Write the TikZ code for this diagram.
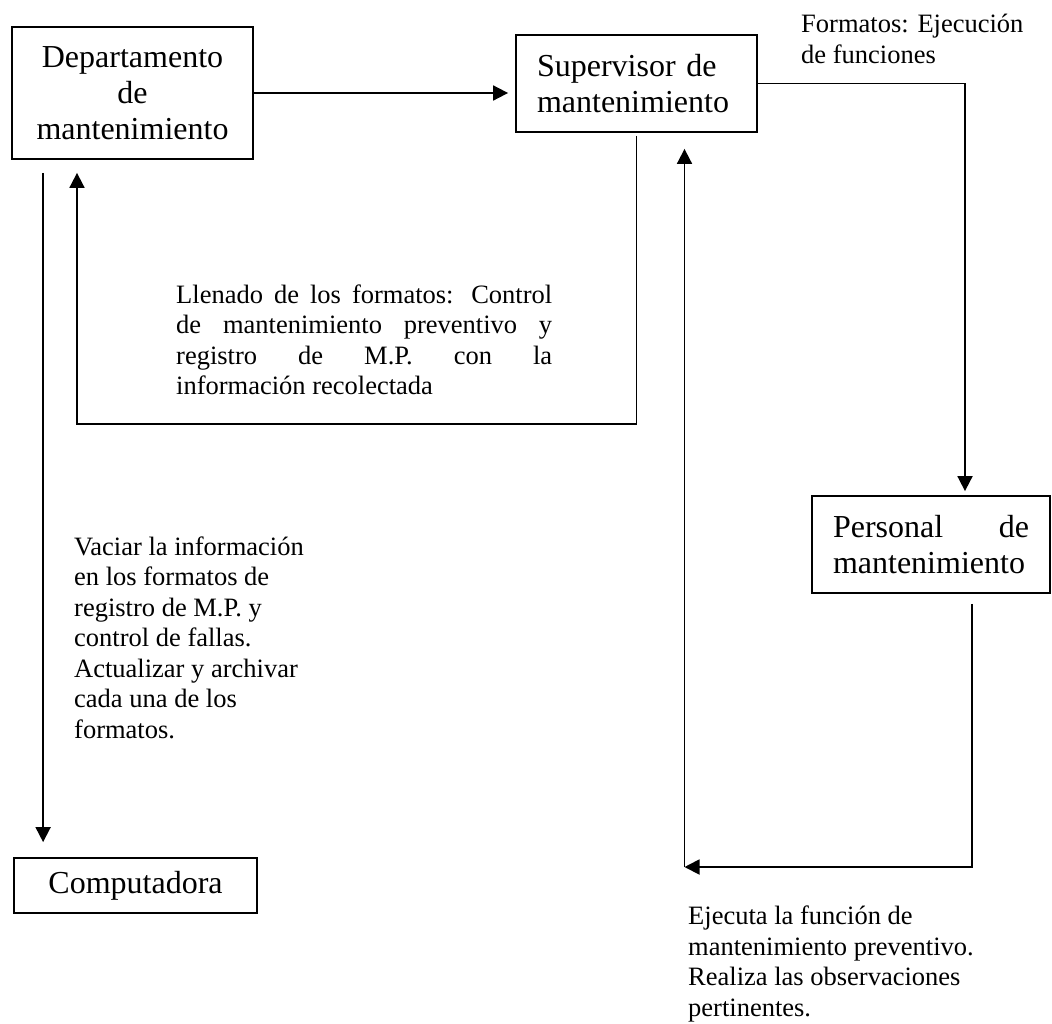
\documentclass[tikz,border=0pt]{standalone}
\usepackage{fontspec}
\setmainfont{Liberation Serif}
\usetikzlibrary{arrows.meta}

\begin{document}
\begin{tikzpicture}[x=1pt, y=-1pt,
    box/.style={draw, line width=1.8pt, inner sep=4pt,
        font=\fontsize{32}{36}\selectfont},
    note/.style={inner sep=0pt, anchor=base west,
        font=\fontsize{26.5}{30.5}\selectfont},
    arr/.style={line width=1.8pt, -{Triangle[length=15pt, width=15pt]}}]
    \useasboundingbox (0,0) rectangle (1052,1023);

    % Boxes
    \node[box, minimum width=241pt, minimum height=132pt, text width=200pt,
        align=center] (dept) at (132.5,93) {Departamento\\de\\mantenimiento};
    \node[box, minimum width=241pt, minimum height=97pt, inner xsep=21pt,
        text width=199pt, align=left] (sup) at (636.5,83.5)
        {Supervisor de\\mantenimiento};
    \node[box, minimum width=238pt, minimum height=97pt, inner xsep=21pt,
        text width=196pt, align=left] (pers) at (931,544.5)
        {Personal\hfill de\\mantenimiento};
    \node[box, minimum width=243pt, minimum height=55pt] (comp)
        at (135.5,885.5) {Computadora};

    % Notes
    \node[note, align=left] (formatos) at (801,63)
        {Formatos: Ejecuci\'on\\de funciones};
    \node[note, text width=376pt, align=justify] (llenado) at (176,303)
        {Llenado de los formatos: Control\linebreak
         de mantenimiento preventivo y\linebreak
         registro de M.P. con la\linebreak
         informaci\'on recolectada};
    \node[note, align=left] (vaciar) at (74,738)
        {Vaciar la informaci\'on\\en los formatos de\\registro de M.P. y\\
         control de fallas.\\Actualizar y archivar\\cada una de los\\formatos.};
    \node[note, align=left] (ejecuta) at (688,1016)
        {Ejecuta la funci\'on de\\mantenimiento preventivo.\\
         Realiza las observaciones\\pertinentes.};

    % Corners
    \coordinate (fbR) at (636.5,424);
    \coordinate (fbL) at (77,424);
    \coordinate (ret) at (684.5,867);

    % Connectors
    \draw[arr, shorten >=7pt] (dept.east) -- (dept.east -| sup.west);
    \draw[arr, shorten >=4pt] (sup.east) -| ([xshift=34pt]pers.north);
    \draw[arr] ([yshift=-3pt]sup.south) -- (fbR) -- (fbL)
        -- ([xshift=-55.5pt, yshift=-13pt]dept.south);
    \draw[arr] ([xshift=32pt, yshift=-13pt]dept.south west)
        -- ([xshift=30pt, yshift=15pt]comp.north west);
    \draw[arr] ([xshift=41pt, yshift=-10pt]pers.south) |- (ret);
    \draw[arr] (ret) -- ([xshift=48pt, yshift=-16pt]sup.south);
\end{tikzpicture}
\end{document}
